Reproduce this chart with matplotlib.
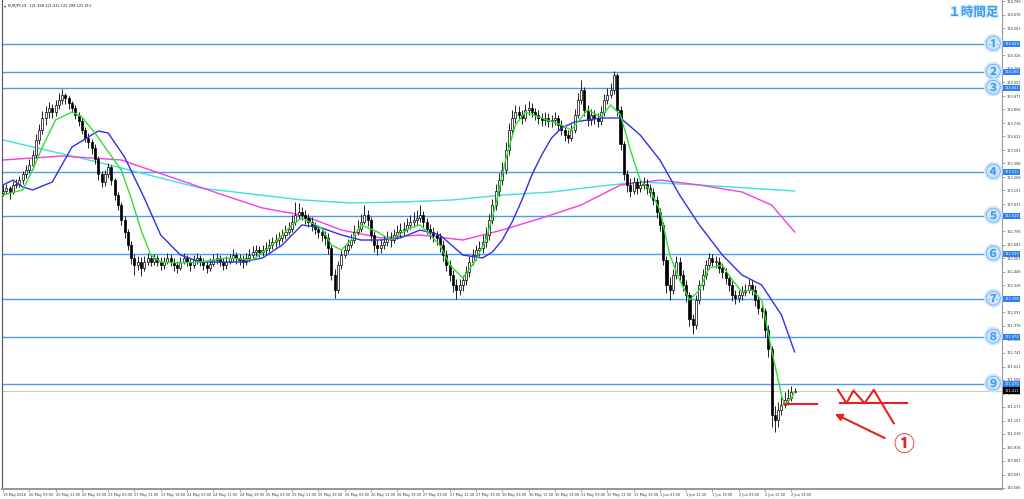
import numpy as np
import matplotlib.pyplot as plt
import matplotlib.patheffects as pe

title_text = "EURJPY,H1  121.398 121.432 121.398 121.411"
corner_text = "１時間足"

# hourly candles, 19 May 19:00 .. 2 Jun 20:00
open_ = [123.13, 123.15, 123.17, 123.14, 123.20, 123.21, 123.24, 123.29, 123.33, 123.37,
         123.46, 123.59, 123.68, 123.78, 123.83, 123.87, 123.83, 123.89, 123.94, 123.98,
         123.95, 123.91, 123.87, 123.81, 123.75, 123.68, 123.61, 123.57, 123.52, 123.42,
         123.29, 123.22, 123.29, 123.35, 123.24, 123.11, 123.02, 122.89, 122.79, 122.68,
         122.56, 122.50, 122.53, 122.48, 122.53, 122.56, 122.53, 122.56, 122.53, 122.50,
         122.53, 122.56, 122.53, 122.50, 122.48, 122.53, 122.56, 122.53, 122.50, 122.55,
         122.56, 122.53, 122.50, 122.48, 122.51, 122.55, 122.56, 122.53, 122.50, 122.53,
         122.56, 122.59, 122.56, 122.55, 122.53, 122.56, 122.59, 122.62, 122.63, 122.62,
         122.63, 122.65, 122.68, 122.70, 122.72, 122.74, 122.76, 122.79, 122.82, 122.88,
         122.94, 122.96, 122.94, 122.91, 122.88, 122.85, 122.82, 122.79, 122.76, 122.74,
         122.65, 122.42, 122.29, 122.50, 122.59, 122.63, 122.68, 122.72, 122.79, 122.82,
         122.88, 122.94, 122.89, 122.76, 122.68, 122.65, 122.68, 122.70, 122.74, 122.72,
         122.76, 122.79, 122.81, 122.82, 122.85, 122.88, 122.89, 122.91, 122.94, 122.88,
         122.82, 122.79, 122.76, 122.74, 122.68, 122.59, 122.50, 122.42, 122.33, 122.29,
         122.33, 122.37, 122.44, 122.53, 122.59, 122.63, 122.65, 122.70, 122.76, 122.89,
         123.02, 123.15, 123.24, 123.33, 123.50, 123.68, 123.78, 123.83, 123.81, 123.78,
         123.85, 123.87, 123.83, 123.81, 123.78, 123.76, 123.78, 123.75, 123.76, 123.78,
         123.72, 123.68, 123.63, 123.61, 123.68, 123.81, 123.94, 124.02, 123.85, 123.76,
         123.81, 123.78, 123.75, 123.83, 123.94, 123.98, 124.02, 124.15, 123.85, 123.55,
         123.29, 123.20, 123.15, 123.22, 123.17, 123.20, 123.21, 123.17, 123.14, 123.07,
         122.96, 122.85, 122.55, 122.33, 122.29, 122.42, 122.53, 122.42, 122.33, 122.24,
         122.03, 121.98, 122.20, 122.33, 122.42, 122.50, 122.56, 122.53, 122.53, 122.48,
         122.44, 122.39, 122.33, 122.24, 122.22, 122.24, 122.27, 122.29, 122.33, 122.29,
         122.20, 122.13, 122.10, 121.94, 121.77, 121.20, 121.16, 121.24, 121.29, 121.33,
         121.35, 121.398]
high = [123.20, 123.21, 123.19, 123.23, 123.25, 123.28, 123.32, 123.37, 123.42, 123.50,
        123.64, 123.73, 123.84, 123.88, 123.92, 123.90, 123.94, 124.00, 124.03, 124.00,
        123.97, 123.93, 123.89, 123.83, 123.78, 123.70, 123.65, 123.60, 123.55, 123.45,
        123.32, 123.33, 123.39, 123.37, 123.26, 123.14, 123.05, 122.93, 122.82, 122.71,
        122.60, 122.58, 122.57, 122.58, 122.61, 122.60, 122.60, 122.59, 122.57, 122.57,
        122.61, 122.60, 122.56, 122.54, 122.57, 122.61, 122.59, 122.56, 122.59, 122.61,
        122.59, 122.56, 122.54, 122.56, 122.60, 122.61, 122.59, 122.56, 122.58, 122.60,
        122.64, 122.62, 122.60, 122.59, 122.61, 122.64, 122.67, 122.68, 122.67, 122.68,
        122.70, 122.73, 122.75, 122.77, 122.79, 122.82, 122.85, 122.88, 122.94, 123.05,
        123.04, 123.01, 122.98, 122.95, 122.92, 122.88, 122.85, 122.82, 122.80, 122.78,
        122.68, 122.47, 122.54, 122.63, 122.68, 122.73, 122.77, 122.85, 122.89, 122.95,
        123.02, 122.98, 122.92, 122.80, 122.72, 122.73, 122.76, 122.80, 122.79, 122.82,
        122.85, 122.87, 122.88, 122.91, 122.94, 122.96, 122.98, 123.02, 122.97, 122.91,
        122.86, 122.83, 122.80, 122.78, 122.72, 122.63, 122.55, 122.46, 122.38, 122.38,
        122.42, 122.49, 122.58, 122.64, 122.68, 122.71, 122.76, 122.83, 122.95, 123.08,
        123.21, 123.30, 123.40, 123.57, 123.74, 123.85, 123.89, 123.88, 123.85, 123.90,
        123.93, 123.91, 123.87, 123.85, 123.82, 123.83, 123.82, 123.81, 123.83, 123.81,
        123.76, 123.71, 123.68, 123.73, 123.86, 124.00, 124.11, 124.05, 123.89, 123.86,
        123.85, 123.82, 123.88, 123.99, 124.04, 124.08, 124.19, 124.17, 123.88, 123.58,
        123.33, 123.26, 123.27, 123.26, 123.25, 123.27, 123.25, 123.21, 123.17, 123.10,
        123.00, 122.88, 122.58, 122.40, 122.47, 122.58, 122.57, 122.46, 122.37, 122.27,
        122.08, 122.24, 122.37, 122.47, 122.55, 122.61, 122.60, 122.58, 122.57, 122.52,
        122.48, 122.42, 122.37, 122.29, 122.29, 122.32, 122.34, 122.38, 122.37, 122.33,
        122.24, 122.18, 122.13, 121.98, 121.80, 121.28, 121.31, 121.36, 121.40, 121.43,
        121.45, 121.432]
low = [123.10, 123.12, 123.08, 123.12, 123.17, 123.18, 123.21, 123.26, 123.30, 123.34,
       123.43, 123.55, 123.64, 123.72, 123.78, 123.78, 123.80, 123.86, 123.90, 123.90,
       123.86, 123.83, 123.77, 123.71, 123.64, 123.57, 123.52, 123.47, 123.38, 123.24,
       123.18, 123.19, 123.26, 123.20, 123.07, 122.98, 122.85, 122.74, 122.63, 122.51,
       122.42, 122.46, 122.41, 122.45, 122.50, 122.49, 122.50, 122.49, 122.46, 122.47,
       122.51, 122.49, 122.45, 122.43, 122.46, 122.51, 122.49, 122.45, 122.48, 122.51,
       122.49, 122.46, 122.43, 122.45, 122.49, 122.51, 122.49, 122.46, 122.47, 122.51,
       122.53, 122.51, 122.50, 122.48, 122.50, 122.53, 122.56, 122.58, 122.57, 122.58,
       122.60, 122.62, 122.64, 122.66, 122.68, 122.70, 122.73, 122.76, 122.79, 122.85,
       122.90, 122.89, 122.86, 122.83, 122.80, 122.77, 122.74, 122.71, 122.68, 122.60,
       122.37, 122.22, 122.26, 122.47, 122.56, 122.61, 122.65, 122.69, 122.76, 122.79,
       122.86, 122.84, 122.71, 122.62, 122.59, 122.61, 122.64, 122.67, 122.66, 122.69,
       122.73, 122.75, 122.76, 122.79, 122.82, 122.83, 122.85, 122.88, 122.83, 122.77,
       122.73, 122.70, 122.68, 122.62, 122.54, 122.45, 122.36, 122.27, 122.21, 122.24,
       122.28, 122.33, 122.40, 122.50, 122.55, 122.58, 122.61, 122.66, 122.72, 122.86,
       122.98, 123.10, 123.20, 123.29, 123.46, 123.63, 123.74, 123.76, 123.73, 123.75,
       123.81, 123.79, 123.76, 123.73, 123.71, 123.72, 123.70, 123.70, 123.72, 123.67,
       123.63, 123.58, 123.56, 123.58, 123.65, 123.78, 123.90, 123.80, 123.71, 123.72,
       123.73, 123.70, 123.72, 123.80, 123.90, 123.95, 123.99, 123.80, 123.50, 123.24,
       123.14, 123.09, 123.12, 123.12, 123.14, 123.16, 123.12, 123.09, 123.02, 122.91,
       122.80, 122.50, 122.26, 122.20, 122.25, 122.38, 122.37, 122.28, 122.18, 121.97,
       121.90, 121.95, 122.16, 122.29, 122.38, 122.47, 122.49, 122.48, 122.43, 122.39,
       122.34, 122.28, 122.19, 122.16, 122.18, 122.20, 122.23, 122.26, 122.24, 122.15,
       122.08, 122.04, 121.88, 121.70, 121.10, 121.05, 121.10, 121.20, 121.26, 121.29,
       121.32, 121.398]
close = [123.15, 123.17, 123.14, 123.20, 123.21, 123.24, 123.29, 123.33, 123.37, 123.46,
         123.59, 123.68, 123.78, 123.83, 123.87, 123.83, 123.89, 123.94, 123.98, 123.95,
         123.91, 123.87, 123.81, 123.75, 123.68, 123.61, 123.57, 123.52, 123.42, 123.29,
         123.22, 123.29, 123.35, 123.24, 123.11, 123.02, 122.89, 122.79, 122.68, 122.56,
         122.50, 122.53, 122.48, 122.53, 122.56, 122.53, 122.56, 122.53, 122.50, 122.53,
         122.56, 122.53, 122.50, 122.48, 122.53, 122.56, 122.53, 122.50, 122.55, 122.56,
         122.53, 122.50, 122.48, 122.51, 122.55, 122.56, 122.53, 122.50, 122.53, 122.56,
         122.59, 122.56, 122.55, 122.53, 122.56, 122.59, 122.62, 122.63, 122.62, 122.63,
         122.65, 122.68, 122.70, 122.72, 122.74, 122.76, 122.79, 122.82, 122.88, 122.94,
         122.96, 122.94, 122.91, 122.88, 122.85, 122.82, 122.79, 122.76, 122.74, 122.65,
         122.42, 122.29, 122.50, 122.59, 122.63, 122.68, 122.72, 122.79, 122.82, 122.88,
         122.94, 122.89, 122.76, 122.68, 122.65, 122.68, 122.70, 122.74, 122.72, 122.76,
         122.79, 122.81, 122.82, 122.85, 122.88, 122.89, 122.91, 122.94, 122.88, 122.82,
         122.79, 122.76, 122.74, 122.68, 122.59, 122.50, 122.42, 122.33, 122.29, 122.33,
         122.37, 122.44, 122.53, 122.59, 122.63, 122.65, 122.70, 122.76, 122.89, 123.02,
         123.15, 123.24, 123.33, 123.50, 123.68, 123.78, 123.83, 123.81, 123.78, 123.85,
         123.87, 123.83, 123.81, 123.78, 123.76, 123.78, 123.75, 123.76, 123.78, 123.72,
         123.68, 123.63, 123.61, 123.68, 123.81, 123.94, 124.02, 123.85, 123.76, 123.81,
         123.78, 123.75, 123.83, 123.94, 123.98, 124.02, 124.15, 123.85, 123.55, 123.29,
         123.20, 123.15, 123.22, 123.17, 123.20, 123.21, 123.17, 123.14, 123.07, 122.96,
         122.85, 122.55, 122.33, 122.29, 122.42, 122.53, 122.42, 122.33, 122.24, 122.03,
         121.98, 122.20, 122.33, 122.42, 122.50, 122.56, 122.53, 122.53, 122.48, 122.44,
         122.39, 122.33, 122.24, 122.22, 122.24, 122.27, 122.29, 122.33, 122.29, 122.20,
         122.13, 122.10, 121.94, 121.77, 121.20, 121.16, 121.24, 121.29, 121.33, 121.35,
         121.398, 121.411]

# moving averages read at a few bars
green_bar = [0, 6, 9, 12, 16, 21, 24, 28, 31, 36, 39, 42, 45, 48, 54, 60, 68, 76, 82, 88,
             91, 97, 100, 103, 106, 109, 114, 118, 124, 127, 133, 136, 140, 144, 147, 150,
             153, 156, 159, 164, 170, 173, 178, 182, 185, 188, 191, 194, 197, 200, 203, 206,
             209, 212, 215, 219, 222, 225, 228, 231, 234, 237, 238, 240, 241]
green_val = [123.111, 123.155, 123.328, 123.528, 123.763, 123.832, 123.789, 123.650, 123.528,
             123.328, 123.085, 122.807, 122.590, 122.529, 122.521, 122.529, 122.564, 122.547,
             122.677, 122.851, 122.911, 122.825, 122.677, 122.634, 122.720, 122.851, 122.790,
             122.720, 122.825, 122.851, 122.677, 122.503, 122.390, 122.547, 122.720, 123.024,
             123.415, 123.719, 123.832, 123.780, 123.719, 123.676, 123.850, 123.789, 123.893,
             123.806, 123.502, 123.241, 123.155, 122.981, 122.590, 122.373, 122.199, 122.286,
             122.477, 122.503, 122.373, 122.269, 122.286, 122.199, 121.765, 121.374, 121.287,
             121.348, 121.400]
blue_bar = [0, 3, 6, 9, 15, 21, 29, 32, 37, 43, 48, 54, 60, 73, 79, 85, 91, 97, 103, 109,
            115, 121, 127, 133, 140, 146, 149, 152, 155, 158, 161, 164, 167, 170, 174, 182,
            188, 194, 200, 206, 212, 219, 225, 231, 237, 241]
blue_val = [123.198, 123.241, 123.181, 123.155, 123.224, 123.528, 123.667, 123.650, 123.441,
            123.085, 122.764, 122.590, 122.529, 122.529, 122.564, 122.677, 122.851, 122.825,
            122.764, 122.720, 122.720, 122.738, 122.807, 122.764, 122.590, 122.564, 122.616,
            122.720, 122.877, 123.068, 123.285, 123.459, 123.606, 123.693, 123.745, 123.780,
            123.780, 123.632, 123.415, 123.111, 122.851, 122.590, 122.416, 122.329, 122.069,
            121.748]
magenta_bar = [0, 18, 36, 67, 79, 91, 103, 115, 127, 140, 152, 164, 176, 188, 200, 212, 225,
               234, 241]
magenta_val = [123.415, 123.450, 123.415, 123.111, 122.998, 122.937, 122.807, 122.738,
               122.764, 122.720, 122.807, 122.911, 123.024, 123.198, 123.241, 123.198,
               123.137, 123.024, 122.790]
cyan_bar = [0, 30, 60, 91, 106, 121, 137, 152, 167, 182, 194, 212, 241]
cyan_val = [123.589, 123.389, 123.172, 123.068, 123.042, 123.050, 123.068, 123.111, 123.137,
            123.189, 123.224, 123.198, 123.146]

levels = [124.423, 124.180, 124.041, 123.311, 122.929, 122.599, 122.208, 121.878, 121.470]
level_marks = ["①", "②", "③", "④", "⑤", "⑥", "⑦", "⑧", "⑨"]
last_price = 121.411

ytick_vals = [124.796, 124.676, 124.561, 124.441, 124.326, 124.206, 124.091, 123.971,
              123.856, 123.736, 123.621, 123.501, 123.386, 123.266, 123.151, 123.031,
              122.916, 122.796, 122.681, 122.561, 122.446, 122.326, 122.211, 122.091,
              121.976, 121.856, 121.741, 121.621, 121.506, 121.386, 121.271, 121.151,
              121.036, 120.916, 120.801, 120.681, 120.566]
hidden_ticks = [124.441, 122.211]   # covered by the level price boxes
xtick_labels = ["19 May 2016", "20 May 03:00", "20 May 11:00", "20 May 19:00",
                "23 May 03:00", "23 May 11:00", "23 May 19:00", "24 May 03:00",
                "24 May 11:00", "24 May 19:00", "25 May 03:00", "25 May 11:00",
                "25 May 19:00", "26 May 03:00", "26 May 11:00", "26 May 19:00",
                "27 May 03:00", "27 May 11:00", "27 May 19:00", "30 May 03:00",
                "30 May 11:00", "30 May 19:00", "31 May 03:00", "31 May 11:00",
                "31 May 19:00", "1 Jun 03:00", "1 Jun 11:00", "1 Jun 19:00",
                "2 Jun 03:00", "2 Jun 11:00", "2 Jun 19:00"]

plt.rcParams['font.family'] = ['DejaVu Sans', 'Noto Sans CJK JP']

fig = plt.figure(figsize=(10.24, 4.99), dpi=100)
ax = fig.add_axes([0.002, 0.02, 0.977, 0.98])

o = np.array(open_)
c = np.array(close)
h = np.maximum(np.array(high), np.maximum(o, c))
l = np.minimum(np.array(low), np.minimum(o, c))
x = np.arange(len(c))
up = c >= o
top = np.maximum(o, c)
bot = np.minimum(o, c)
body = np.maximum(top - bot, 0.004)

ax.vlines(x, l, h, color='black', lw=0.6, zorder=3)
ax.bar(x[up], body[up], bottom=bot[up], width=0.62, color='white', edgecolor='black',
       linewidth=0.5, zorder=4)
ax.bar(x[~up], body[~up], bottom=bot[~up], width=0.62, color='black', edgecolor='black',
       linewidth=0.5, zorder=4)

ax.plot(cyan_bar, cyan_val, color='#3ee0e0', lw=1.0, zorder=2)
ax.plot(magenta_bar, magenta_val, color='#f040e0', lw=1.0, zorder=2)
ax.plot(blue_bar, blue_val, color='#3030e8', lw=1.0, zorder=5)
ax.plot(green_bar, green_val, color='#30e030', lw=1.0, zorder=5)

ax.axhline(last_price, color='#c8c8c8', lw=0.8, zorder=1)
for lv, mk in zip(levels, level_marks):
    ax.axhline(lv, color='#4a9df5', lw=1.0, zorder=1)
    ax.text(301.5, lv, mk, fontsize=11, color='#3d9af0', ha='center', va='center',
            family=['Noto Sans CJK JP', 'DejaVu Sans'], fontweight='bold', zorder=6,
            path_effects=[pe.withStroke(linewidth=3, foreground='#cfe5fb')])
    ax.text(1.002, lv, f"{lv:.3f}", transform=ax.get_yaxis_transform(), fontsize=2.5,
            color='white', ha='left', va='center', clip_on=False,
            bbox=dict(boxstyle='square,pad=0.35', fc='#2f80f0', ec='none'))
ax.text(1.002, last_price, f"{last_price:.3f}", transform=ax.get_yaxis_transform(),
        fontsize=2.5, color='white', ha='left', va='center', clip_on=False,
        bbox=dict(boxstyle='square,pad=0.35', fc='black', ec='none'))

# red hand-drawn annotation
red = '#e42222'
ax.plot([237.8, 247.9], [121.293, 121.293], color=red, lw=1.5, zorder=7)
ax.plot([254.2, 256.8, 258.9, 262.3, 265.1, 271.2],
        [121.418, 121.302, 121.412, 121.302, 121.418, 121.128], color=red, lw=1.5, zorder=7)
ax.plot([254.8, 275.3], [121.302, 121.302], color=red, lw=1.5, zorder=7)
ax.annotate("", xy=(252.5, 121.220), xytext=(269.2, 120.989),
            arrowprops=dict(arrowstyle='-|>', color=red, lw=1.5, mutation_scale=10), zorder=7)
ax.text(274.3, 120.940, "①", fontsize=15, color=red, ha='center', va='center',
        family=['Noto Sans CJK JP', 'DejaVu Sans'], fontweight='bold', zorder=7)

ax.set_xlim(-0.3, 304.3)
ax.set_ylim(120.557, 124.805)
ax.yaxis.tick_right()
ax.set_yticks(ytick_vals)
ax.set_yticklabels(["" if v in hidden_ticks else f"{v:.3f}" for v in ytick_vals],
                   fontsize=2.5, color='#333333')
ax.set_xticks(np.arange(0, 8 * len(xtick_labels), 8))
ax.set_xticklabels(xtick_labels, fontsize=2.5, color='#333333', ha='left')
ax.tick_params(axis='y', length=2, width=0.4, pad=1, colors='#666666', labelcolor='#333333')
ax.tick_params(axis='x', length=2, width=0.4, pad=1, colors='#666666', labelcolor='#333333')
ax.spines['top'].set_visible(False)
ax.spines['left'].set_color('#555555')
ax.spines['right'].set_color('#999999')
ax.spines['bottom'].set_color('#999999')
ax.spines['bottom'].set_linewidth(1.5)

fig.text(0.004, 0.988, "▾", fontsize=3, color='#333333', va='center')
fig.text(0.008, 0.988, title_text, fontsize=2.6, color='#222222', va='center')
fig.text(0.975, 0.975, corner_text, fontsize=9, color='#3c9be8', ha='right', va='center',
         family=['Noto Sans CJK JP', 'DejaVu Sans'], fontweight='bold',
         path_effects=[pe.withStroke(linewidth=2, foreground='#dcefff')])

fig.savefig('out.png', dpi=100)
